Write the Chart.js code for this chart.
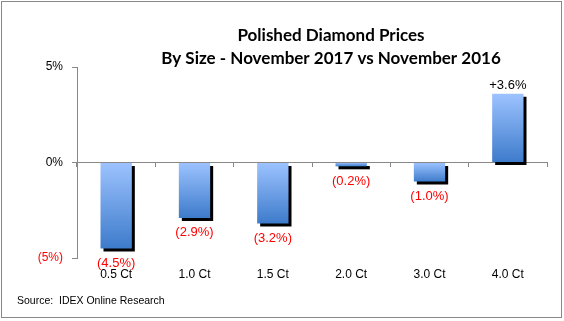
<!DOCTYPE html>
<html>
<head>
<meta charset="utf-8">
<script src="https://cdn.jsdelivr.net/npm/chart.js@4/dist/chart.umd.min.js"></script>
<style>
  html, body { margin: 0; padding: 0; background: #ffffff; }
  #wrap { width: 564px; height: 321px; position: relative; }
</style>
</head>
<body>
<div id="wrap"><canvas id="c" width="564" height="321"></canvas></div>
<script>
// ---- data ----
const categories = ['0.5 Ct', '1.0 Ct', '1.5 Ct', '2.0 Ct', '3.0 Ct', '4.0 Ct'];
const changePct = [-4.5, -2.9, -3.2, -0.2, -1.0, 3.6];
const yTicks = [-5, 0, 5];
const titleLines = ['Polished Diamond Prices', 'By Size - November 2017 vs November 2016'];
const sourceText = 'Source:  IDEX Online Research';

const FONT = "'Liberation Sans', Arial, sans-serif";
const GRAY = '#888888';
const RED = '#FF0000';

function fmtPct(v) {
  return v < 0 ? '(' + Math.abs(v).toFixed(1) + '%)' : '+' + v.toFixed(1) + '%';
}

const decor = {
  id: 'decor',
  beforeDraw(chart) {
    const ctx = chart.ctx;
    ctx.save();
    ctx.fillStyle = '#ffffff';
    ctx.fillRect(0, 0, chart.width, chart.height);
    ctx.strokeStyle = GRAY;
    ctx.lineWidth = 1;
    ctx.strokeRect(1.5, 1.5, 560, 316);
    // title
    ctx.fillStyle = '#000000';
    ctx.textAlign = 'center';
    ctx.textBaseline = 'middle';
    ctx.font = "bold 17px Lato, 'Liberation Sans', sans-serif";
    ctx.fillText(titleLines[0], 331, 36);
    ctx.fillText(titleLines[1], 331, 59);
    // source
    ctx.textAlign = 'left';
    ctx.font = "10.5px " + FONT;
    ctx.fillText(sourceText, 17, 301);
    ctx.restore();
  },
  beforeDatasetsDraw(chart) {
    const ctx = chart.ctx;
    ctx.save();
    ctx.shadowColor = '#000000';
    ctx.shadowOffsetX = 3;
    ctx.shadowOffsetY = 3;
    ctx.shadowBlur = 0;
  },
  afterDatasetsDraw(chart) {
    const ctx = chart.ctx;
    ctx.restore();
    ctx.save();
    const meta = chart.getDatasetMeta(0);
    ctx.font = "13px " + FONT;
    ctx.textAlign = 'center';
    ctx.textBaseline = 'middle';
    meta.data.forEach((bar, i) => {
      const v = changePct[i];
      if (v < 0) {
        ctx.fillStyle = RED;
        ctx.fillText(fmtPct(v), bar.x, bar.y + 15);
      } else {
        ctx.fillStyle = '#000000';
        ctx.fillText(fmtPct(v), bar.x, bar.y - 8);
      }
    });
    ctx.restore();
  }
};

new Chart(document.getElementById('c'), {
  type: 'bar',
  data: {
    labels: categories,
    datasets: [{
      data: changePct,
      xAxisID: 'x',
      yAxisID: 'y',
      categoryPercentage: 1.0,
      barPercentage: 0.4,
      borderWidth: 0,
      backgroundColor(ctx) {
        const chart = ctx.chart;
        const area = chart.chartArea;
        if (!area || ctx.raw === undefined || !chart.scales.y) return '#7aa6ee';
        const y = chart.scales.y;
        const p0 = y.getPixelForValue(0);
        const p1 = y.getPixelForValue(ctx.raw);
        const top = Math.min(p0, p1), bot = Math.max(p0, p1);
        const g = chart.ctx.createLinearGradient(0, top, 0, bot + 0.01);
        g.addColorStop(0, '#9DC3FF');
        g.addColorStop(1, '#3D7BCB');
        return g;
      }
    }]
  },
  options: {
    responsive: false,
    animation: false,
    devicePixelRatio: 1,
    layout: { padding: { left: 0, right: 17, top: 67, bottom: 33 } },
    plugins: {
      legend: { display: false },
      title: { display: false },
      tooltip: { enabled: false }
    },
    scales: {
      x: {
        type: 'category',
        position: { y: 0 },
        offset: true,
        grid: { display: true, offset: true, drawOnChartArea: false, drawTicks: true, tickLength: 4, color: GRAY },
        border: { display: true, color: GRAY, width: 1 },
        ticks: { display: false }
      },
      x2: {
        type: 'category',
        position: 'bottom',
        offset: true,
        grid: { display: false, drawTicks: false },
        border: { display: false },
        ticks: { color: '#000000', font: { family: FONT, size: 12 }, padding: 9, maxRotation: 0, autoSkip: false },
        afterFit(scale) { scale.height = 30; }
      },
      y: {
        type: 'linear',
        min: -5,
        max: 5,
        afterBuildTicks(scale) { scale.ticks = yTicks.map(v => ({ value: v })); },
        afterFit(scale) { scale.width = 77; },
        grid: { drawOnChartArea: false, drawTicks: true, tickLength: 5, color: GRAY },
        border: { display: true, color: GRAY, width: 1 },
        ticks: {
          font: { family: FONT, size: 12 },
          padding: 9,
          color(ctx) { return ctx.tick && ctx.tick.value < 0 ? RED : '#000000'; },
          callback(v) { return v < 0 ? '(' + Math.abs(v) + '%)' : v + '%'; }
        }
      }
    }
  },
  plugins: [decor]
});
</script>
</body>
</html>
